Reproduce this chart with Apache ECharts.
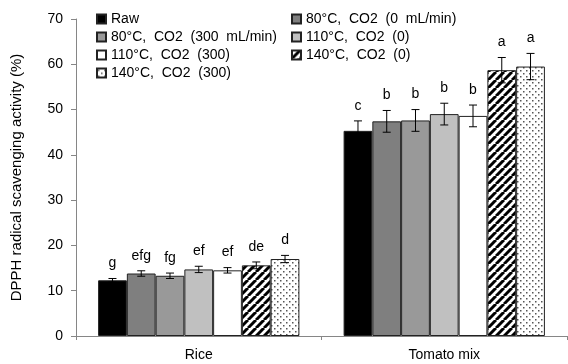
<!DOCTYPE html>
<html>
<head>
<meta charset="utf-8">
<script src="https://cdn.jsdelivr.net/npm/echarts@6/dist/echarts.min.js"></script>
<style>
  html, body { margin: 0; padding: 0; background: #fff; }
  #chartBox { width: 568px; height: 364px; }
</style>
</head>
<body>
<div id="chartBox"></div>
<script>
// data
const categories = ['Rice', 'Tomato mix'];
const treatments = ['Raw', '80°C,  CO2  (0  mL/min)', '80°C,  CO2  (300  mL/min)', '110°C,  CO2  (0)', '110°C,  CO2  (300)', '140°C,  CO2  (0)', '140°C,  CO2  (300)'];
const riceValues = [12.3, 13.8, 13.3, 14.7, 14.5, 15.6, 17.0];
const tomatoValues = [45.3, 47.4, 47.6, 49.0, 48.6, 58.7, 59.5];
const riceErrors = [0.4, 0.6, 0.6, 0.7, 0.6, 0.75, 0.8];
const tomatoErrors = [2.2, 2.4, 2.4, 2.4, 2.4, 2.8, 2.9];
const riceLetters = ['g', 'efg', 'fg', 'ef', 'ef', 'de', 'd'];
const tomatoLetters = ['c', 'b', 'b', 'b', 'b', 'a', 'a'];
const yTicks = [0, 10, 20, 30, 40, 50, 60, 70];

const FONT = 'Liberation Sans, Arial, sans-serif';
const CAT_GAP = 0.18;

function hatchPattern() {
  const c = document.createElement('canvas');
  c.width = 8; c.height = 8;
  const ctx = c.getContext('2d');
  ctx.fillStyle = '#fff';
  ctx.fillRect(0, 0, 8, 8);
  ctx.strokeStyle = '#000';
  ctx.lineWidth = 3;
  [-8, 0, 8].forEach(x0 => {
    ctx.beginPath();
    ctx.moveTo(x0, 8);
    ctx.lineTo(x0 + 8, 0);
    ctx.stroke();
  });
  return { image: c, repeat: 'repeat' };
}

function dotPattern() {
  const c = document.createElement('canvas');
  c.width = 6; c.height = 6;
  const ctx = c.getContext('2d');
  ctx.fillStyle = '#fff';
  ctx.fillRect(0, 0, 6, 6);
  ctx.fillStyle = '#555';
  ctx.fillRect(1, 1, 1.5, 1.5);
  ctx.fillRect(4, 4, 1.5, 1.5);
  return { image: c, repeat: 'repeat' };
}

const fills = ['#000000', '#7f7f7f', '#999999', '#c0c0c0', '#ffffff', hatchPattern(), dotPattern()];

const barSeries = treatments.map((name, i) => ({
  name: name,
  type: 'bar',
  barGap: 0,
  barCategoryGap: CAT_GAP * 100 + '%',
  itemStyle: { color: fills[i], borderColor: '#222', borderWidth: 1 },
  emphasis: { disabled: true },
  data: [riceValues[i], tomatoValues[i]]
}));

// error bars + significance letters
const errData = [];
treatments.forEach((t, i) => {
  errData.push([0, i, riceValues[i], riceErrors[i], riceLetters[i]]);
  errData.push([1, i, tomatoValues[i], tomatoErrors[i], tomatoLetters[i]]);
});

const errSeries = {
  type: 'custom',
  silent: true,
  z: 5,
  data: errData,
  renderItem: function (params, api) {
    const cat = api.value(0), idx = api.value(1), val = api.value(2), err = api.value(3);
    const letter = errData[params.dataIndex][4];
    const band = api.size([1, 0])[0];
    const barW = band * (1 - CAT_GAP) / treatments.length;
    const cx = api.coord([cat, val])[0] + (idx - (treatments.length - 1) / 2) * barW;
    const yTop = api.coord([cat, val + err])[1];
    const yBot = api.coord([cat, val - err])[1];
    const cap = 4;
    const st = { stroke: '#000', lineWidth: 1 };
    return {
      type: 'group',
      children: [
        { type: 'line', shape: { x1: cx, y1: yTop, x2: cx, y2: yBot }, style: st },
        { type: 'line', shape: { x1: cx - cap, y1: yTop, x2: cx + cap, y2: yTop }, style: st },
        { type: 'line', shape: { x1: cx - cap, y1: yBot, x2: cx + cap, y2: yBot }, style: st },
        { type: 'text', style: { text: letter, x: cx, y: yTop - 8, align: 'center', verticalAlign: 'bottom',
          fill: '#000', font: '14px ' + FONT } }
      ]
    };
  }
};

const legendBase = {
  orient: 'vertical',
  icon: 'rect',
  itemWidth: 9,
  itemHeight: 9,
  itemGap: 4,
  padding: 0,
  selectedMode: false,
  textStyle: { fontFamily: FONT, fontSize: 14, color: '#000', lineHeight: 14 }
};

const option = {
  animation: false,
  backgroundColor: '#fff',
  textStyle: { fontFamily: FONT },
  legend: [
    Object.assign({}, legendBase, { left: 96, top: 12, data: [treatments[0], treatments[2], treatments[4], treatments[6]] }),
    Object.assign({}, legendBase, { left: 291, top: 12, data: [treatments[1], treatments[3], treatments[5]] })
  ],
  grid: { left: 76, right: 1, top: 19, bottom: 28 },
  xAxis: {
    type: 'category',
    data: categories,
    axisLine: { lineStyle: { color: '#868686', width: 1 } },
    axisTick: { show: true, length: 4, lineStyle: { color: '#868686' } },
    axisLabel: { color: '#000', fontSize: 14, fontFamily: FONT, margin: 12 }
  },
  yAxis: {
    type: 'value',
    min: yTicks[0],
    max: yTicks[yTicks.length - 1],
    interval: yTicks[1] - yTicks[0],
    name: 'DPPH radical scavenging activity (%)',
    nameLocation: 'middle',
    nameGap: 52,
    nameTextStyle: { color: '#000', fontSize: 15, fontFamily: FONT },
    axisLine: { show: true, lineStyle: { color: '#868686', width: 1 } },
    axisTick: { show: true, length: 5, lineStyle: { color: '#868686' } },
    splitLine: { show: false },
    axisLabel: { color: '#000', fontSize: 14, fontFamily: FONT, margin: 13 }
  },
  series: barSeries.concat([errSeries])
};

const myChart = echarts.init(document.getElementById('chartBox'));
myChart.setOption(option);
</script>
</body>
</html>
